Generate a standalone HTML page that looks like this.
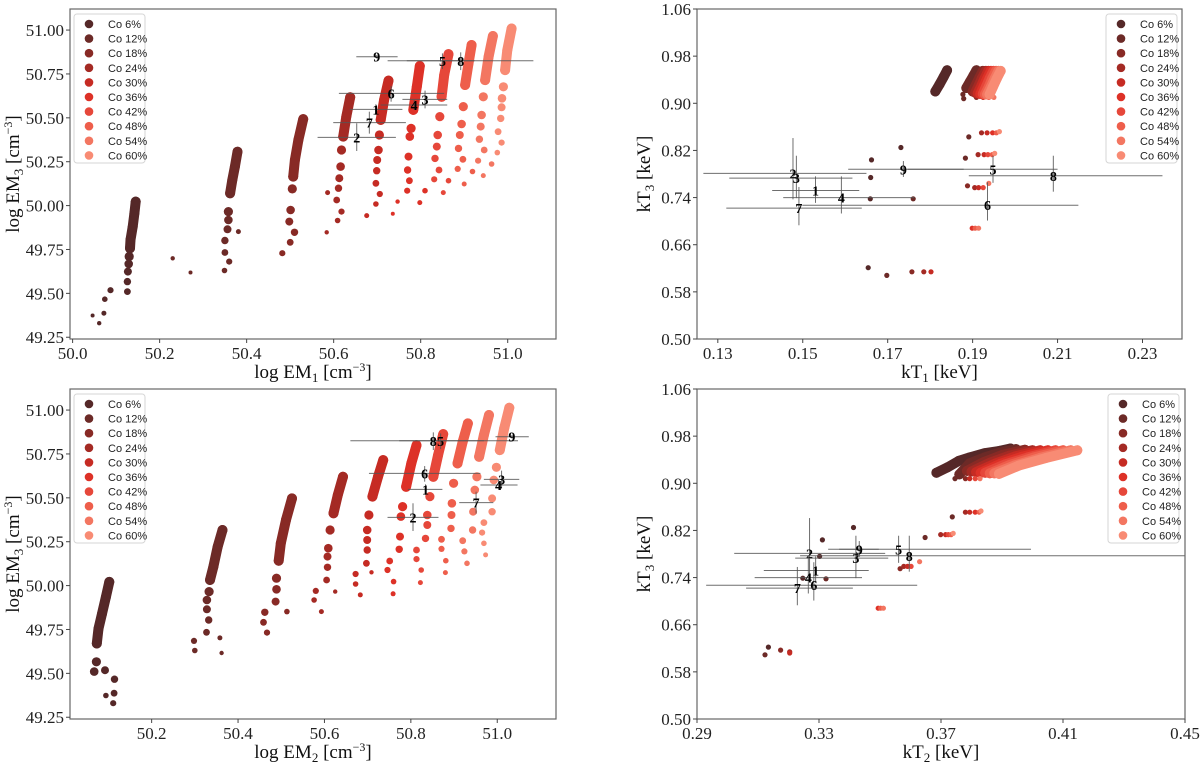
<!DOCTYPE html>
<html><head><meta charset="utf-8"><style>
html,body{margin:0;padding:0;background:#fff;}
svg{display:block;}
text{font-family:"Liberation Serif",serif;}
</style></head><body>
<svg id="fig" width="1200" height="764" viewBox="0 0 1200 764" xmlns="http://www.w3.org/2000/svg"></svg>
<script>
const seriesNames = ["Co 6%","Co 12%","Co 18%","Co 24%","Co 30%","Co 36%","Co 42%","Co 48%","Co 54%","Co 60%"];
const seriesColors = ["#552828","#6c2a27","#882a25","#a42a24","#c62b23","#dd3127","#e6473a","#ee5e4b","#f37661","#f88b74"];

// Top-left: log EM1 vs log EM3
const tlX = [
 [50.145,50.142,50.138,50.133,50.132,50.130,50.129,50.127,50.126,50.126,50.087,50.074,50.072,50.061,50.046],
 [50.379,50.373,50.367,50.362,50.358,50.358,50.356,50.350,50.350,50.360,50.349,50.381,50.230,50.271],
 [50.530,50.519,50.511,50.507,50.505,50.501,50.498,50.510,50.500,50.482],
 [50.638,50.629,50.622,50.618,50.616,50.613,50.611,50.607,50.618,50.609,50.586,50.584],
 [50.726,50.716,50.708,50.705,50.703,50.700,50.699,50.697,50.706,50.697,50.676],
 [50.798,50.791,50.783,50.778,50.775,50.772,50.770,50.774,50.769,50.810,50.798,50.747,50.736],
 [50.864,50.854,50.848,50.844,50.839,50.837,50.833,50.842,50.831,50.864,50.852],
 [50.917,50.910,50.902,50.898,50.894,50.890,50.887,50.897,50.885,50.919,50.900],
 [50.966,50.956,50.948,50.944,50.940,50.938,50.935,50.946,50.932,50.963,50.944],
 [51.009,50.999,50.994,50.990,50.987,50.986,50.984,50.978,50.986,50.976]];
const tlY = [
 [50.023,49.956,49.880,49.805,49.757,49.710,49.668,49.624,49.567,49.510,49.518,49.467,49.387,49.330,49.374],
 [50.307,50.222,50.146,50.070,49.966,49.918,49.865,49.801,49.733,49.681,49.630,49.852,49.700,49.619],
 [50.493,50.374,50.260,50.165,50.095,49.975,49.909,49.848,49.791,49.729],
 [50.617,50.507,50.393,50.317,50.222,50.156,50.099,50.032,49.966,49.915,50.074,49.848],
 [50.712,50.602,50.488,50.402,50.317,50.260,50.199,50.127,50.066,50.009,49.943],
 [50.795,50.677,50.545,50.440,50.393,50.279,50.203,50.142,50.085,50.085,50.017,50.023,49.953],
 [50.863,50.744,50.620,50.507,50.402,50.336,50.269,50.203,50.150,50.142,50.074],
 [50.915,50.810,50.687,50.564,50.465,50.402,50.326,50.264,50.209,50.194,50.123],
 [50.966,50.848,50.715,50.620,50.516,50.450,50.378,50.317,50.256,50.237,50.171],
 [51.009,50.886,50.772,50.677,50.611,50.560,50.497,50.421,50.359,50.302]];

// Bottom-left: log EM2 vs log EM3
const blX = [
 [50.102,50.094,50.085,50.077,50.073,50.072,50.067,50.092,50.114,50.113,50.111,50.094],
 [50.364,50.353,50.343,50.335,50.333,50.328,50.328,50.332,50.327,50.298,50.300,50.358,50.362],
 [50.525,50.511,50.499,50.494,50.489,50.489,50.487,50.462,50.459,50.467,50.513],
 [50.643,50.631,50.621,50.613,50.609,50.607,50.607,50.605,50.580,50.576,50.593,50.625],
 [50.736,50.724,50.711,50.703,50.699,50.699,50.699,50.697,50.672,50.672,50.683,50.709],
 [50.813,50.801,50.789,50.781,50.777,50.775,50.773,50.751,50.746,50.760,50.759],
 [50.875,50.863,50.852,50.844,50.838,50.838,50.834,50.813,50.813,50.824,50.822],
 [50.932,50.920,50.908,50.899,50.895,50.894,50.893,50.871,50.871,50.881,50.880],
 [50.981,50.969,50.958,50.953,50.948,50.944,50.943,50.920,50.924,50.930],
 [51.028,51.016,51.006,50.998,50.992,50.988,50.988,50.969,50.965,50.969,50.973]];
const blY = [
 [50.021,49.935,49.840,49.755,49.670,49.566,49.510,49.518,49.467,49.387,49.330,49.374],
 [50.317,50.222,50.108,50.032,49.966,49.918,49.865,49.804,49.734,49.685,49.630,49.702,49.616],
 [50.497,50.374,50.241,50.142,50.042,49.979,49.909,49.848,49.791,49.732,49.852],
 [50.620,50.516,50.412,50.317,50.213,50.165,50.104,50.032,49.970,49.918,49.852,49.966],
 [50.715,50.620,50.507,50.402,50.317,50.260,50.203,50.127,50.066,50.009,49.947,50.076],
 [50.800,50.696,50.563,50.450,50.393,50.279,50.207,50.140,50.089,50.023,49.953],
 [50.863,50.744,50.620,50.507,50.402,50.345,50.269,50.203,50.151,50.089,50.017],
 [50.924,50.820,50.696,50.583,50.469,50.402,50.326,50.264,50.209,50.142,50.074],
 [50.972,50.858,50.734,50.620,50.545,50.421,50.317,50.256,50.195,50.127],
 [51.013,50.896,50.772,50.674,50.602,50.497,50.421,50.359,50.302,50.241,50.175]];

// Top-right: kT1 vs kT3
const trX = [
 [0.1812,0.1822,0.1832,0.1840,0.1731,0.1662,0.1660,0.1659,0.1654],
 [0.1885,0.1893,0.1901,0.1909,0.1877,0.1879,0.1891,0.1883,0.1760,0.1698],
 [0.1900,0.1908,0.1916,0.1924,0.1909,0.1888,0.1757],
 [0.1906,0.1914,0.1922,0.1931,0.1921,0.1913,0.1905,0.1785],
 [0.1912,0.1920,0.1928,0.1937,0.1925,0.1934,0.1927,0.1914,0.1802],
 [0.1918,0.1926,0.1934,0.1943,0.1947,0.1899],
 [0.1924,0.1932,0.1940,0.1949,0.1938,0.1936,0.1925],
 [0.1929,0.1938,0.1946,0.1955,0.1956,0.1946,0.1906],
 [0.1934,0.1943,0.1952,0.1961,0.1950,0.1938,0.1914],
 [0.1940,0.1948,0.1957,0.1966,0.1963,0.1952]];
const trY = [
 [0.920,0.932,0.945,0.956,0.825,0.804,0.774,0.738,0.621],
 [0.926,0.936,0.946,0.956,0.915,0.908,0.843,0.807,0.738,0.608],
 [0.920,0.932,0.944,0.955,0.910,0.760,0.614],
 [0.918,0.930,0.943,0.955,0.850,0.813,0.757,0.614],
 [0.917,0.929,0.942,0.955,0.910,0.850,0.813,0.757,0.614],
 [0.916,0.929,0.942,0.955,0.850,0.688],
 [0.916,0.929,0.942,0.955,0.910,0.813,0.757],
 [0.915,0.928,0.942,0.955,0.850,0.813,0.688],
 [0.915,0.928,0.942,0.955,0.910,0.764,0.688],
 [0.915,0.928,0.942,0.955,0.852,0.815]];

// Bottom-right: kT2 vs kT3
const brX = [
 [0.3685,0.3721,0.3758,0.3794,0.3843,0.3892,0.3928,0.3413,0.3311,0.3302,0.3247,0.3134],
 [0.3760,0.3794,0.3843,0.3892,0.3946,0.3746,0.3737,0.3648,0.3323,0.3123],
 [0.3785,0.3840,0.3900,0.3975,0.3780,0.3566,0.3174],
 [0.3800,0.3860,0.3925,0.4000,0.3780,0.3699,0.3578,0.3204],
 [0.3815,0.3880,0.3945,0.4025,0.3794,0.3794,0.3715,0.3590,0.3204],
 [0.3830,0.3895,0.3965,0.4050,0.3812,0.3494],
 [0.3845,0.3910,0.3985,0.4075,0.3812,0.3724,0.3602],
 [0.3860,0.3925,0.4005,0.4100,0.3825,0.3733,0.3502],
 [0.3875,0.3940,0.4025,0.4125,0.3828,0.3630,0.3511],
 [0.3890,0.3955,0.4045,0.4147,0.3831,0.3740]];
const brY = [
 [0.918,0.927,0.938,0.944,0.951,0.955,0.959,0.825,0.804,0.776,0.739,0.622],
 [0.915,0.934,0.944,0.952,0.958,0.908,0.843,0.808,0.738,0.609],
 [0.921,0.936,0.948,0.957,0.908,0.755,0.617],
 [0.920,0.935,0.947,0.956,0.851,0.813,0.759,0.614],
 [0.919,0.934,0.946,0.956,0.908,0.851,0.813,0.759,0.612],
 [0.918,0.933,0.945,0.956,0.851,0.688],
 [0.918,0.932,0.944,0.956,0.908,0.813,0.759],
 [0.917,0.931,0.944,0.956,0.851,0.813,0.688],
 [0.917,0.930,0.943,0.956,0.908,0.767,0.688],
 [0.916,0.930,0.943,0.956,0.853,0.815]];

// Observations (labels 1..9)
const obsLabels = ["1","2","3","4","5","6","7","8","9"];
const obsEM3 = [50.548,50.389,50.605,50.573,50.825,50.639,50.473,50.825,50.848];
const obsEM3lo = [50.516,50.311,50.554,50.545,50.778,50.592,50.410,50.772,50.838];
const obsEM3hi = [50.577,50.469,50.655,50.602,50.867,50.681,50.535,50.873,50.858];
const obsEM1 = [50.697,50.653,50.810,50.785,50.850,50.732,50.682,50.892,50.699];
const obsEM1lo = [50.637,50.563,50.758,50.708,50.768,50.612,50.599,50.724,50.652];
const obsEM1hi = [50.758,50.743,50.861,50.861,50.924,50.854,50.766,51.059,50.747];
const obsEM2 = [50.834,50.805,51.010,51.003,50.869,50.832,50.951,50.852,51.034];
const obsEM2lo = [50.793,50.746,50.969,50.961,50.773,50.703,50.912,50.660,50.996];
const obsEM2hi = [50.873,50.864,51.051,51.047,51.048,50.961,50.991,50.969,51.073];
const obsKT3 = [0.752,0.781,0.773,0.740,0.788,0.727,0.722,0.777,0.788];
const obsKT3lo = [0.731,0.737,0.739,0.713,0.765,0.701,0.693,0.750,0.775];
const obsKT3hi = [0.776,0.841,0.811,0.776,0.811,0.766,0.758,0.811,0.802];
const obsKT1 = [0.1530,0.1477,0.1485,0.1591,0.1948,0.1935,0.1491,0.2090,0.1737];
const obsKT1lo = [0.1428,0.1266,0.1327,0.1454,0.1747,0.1499,0.1320,0.1891,0.1607];
const obsKT1hi = [0.1633,0.1650,0.1617,0.1763,0.2100,0.2149,0.1639,0.2347,0.1879];
const obsKT2 = [0.3289,0.3269,0.3421,0.3265,0.3561,0.3283,0.3229,0.3596,0.3432];
const obsKT2lo = [0.3119,0.3022,0.3222,0.3089,0.3330,0.2930,0.3061,0.3238,0.3366];
const obsKT2hi = [0.3463,0.3517,0.3527,0.3441,0.3995,0.3622,0.3411,0.4600,0.3496];

// ticks
const tlXTicks = [50.0,50.2,50.4,50.6,50.8,51.0];
const blXTicks = [50.2,50.4,50.6,50.8,51.0];
const emYTicks = [49.25,49.50,49.75,50.00,50.25,50.50,50.75,51.00];
const trXTicks = [0.13,0.15,0.17,0.19,0.21,0.23];
const brXTicks = [0.29,0.33,0.37,0.41,0.45];
const kYTicks = [0.50,0.58,0.66,0.74,0.82,0.90,0.98,1.06];

const NS = "http://www.w3.org/2000/svg";
const svg = document.getElementById('fig');
function mk(tag, attrs, parent){
  const e = document.createElementNS(NS, tag);
  for (const k in attrs) e.setAttribute(k, attrs[k]);
  (parent||svg).appendChild(e);
  return e;
}

const panels = [
 {id:'top-left', L:70, R:556, T:9, B:339, x0:49.994, x1:51.111, y0:49.240, y1:51.120, xs:tlX, ys:tlY, dense:[5,4,4,3,3,3,3,3,3,3], xt:tlXTicks, xd:1, yt:emYTicks, yd:2, leg:{x:74,y:14},
  ox:obsEM1, oxl:obsEM1lo, oxh:obsEM1hi, oy:obsEM3, oyl:obsEM3lo, oyh:obsEM3hi, xlab:['log  EM','1',' [cm','−3',']'], ylab:['log  EM','3',' [cm','−3',']']},
 {id:'top-right', L:697, R:1182, T:9, B:339, x0:0.1251, x1:0.2393, y0:0.50, y1:1.06, xs:trX, ys:trY, dense:[4,4,4,4,4,4,4,4,4,4], xt:trXTicks, xd:2, yt:kYTicks, yd:2, leg:{x:1106,y:14},
  ox:obsKT1, oxl:obsKT1lo, oxh:obsKT1hi, oy:obsKT3, oyl:obsKT3lo, oyh:obsKT3hi, xlab:['kT','1',' [keV]','',''], ylab:['kT','3',' [keV]','','']},
 {id:'bottom-left', L:70, R:556, T:389, B:719, x0:50.011, x1:51.136, y0:49.240, y1:51.120, xs:blX, ys:blY, dense:[5,4,4,3,3,3,3,3,3,3], xt:blXTicks, xd:1, yt:emYTicks, yd:2, leg:{x:74,y:394},
  ox:obsEM2, oxl:obsEM2lo, oxh:obsEM2hi, oy:obsEM3, oyl:obsEM3lo, oyh:obsEM3hi, xlab:['log  EM','2',' [cm','−3',']'], ylab:['log  EM','3',' [cm','−3',']']},
 {id:'bottom-right', L:697, R:1185, T:389, B:719, x0:0.29, x1:0.45, y0:0.50, y1:1.06, xs:brX, ys:brY, dense:[7,5,4,4,4,4,4,4,4,4], xt:brXTicks, xd:2, yt:kYTicks, yd:2, leg:{x:1108,y:394},
  ox:obsKT2, oxl:obsKT2lo, oxh:obsKT2hi, oy:obsKT3, oyl:obsKT3lo, oyh:obsKT3hi, xlab:['kT','2',' [keV]','',''], ylab:['kT','3',' [keV]','','']}
];

function label(g, parts, x, y, rot){
  const t = mk('text', {x:x, y:y, 'font-size':19, 'text-anchor':'middle', fill:'#111'}, g);
  if (rot) t.setAttribute('transform', 'rotate(-90 '+x+' '+y+')');
  const a = t.appendChild(document.createElementNS(NS,'tspan')); a.textContent = parts[0];
  const b = mk('tspan', {'font-size':13, dy:4}, t); b.textContent = parts[1];
  const c = mk('tspan', {dy:-4}, t); c.textContent = parts[2];
  if (parts[3]) { const d = mk('tspan', {'font-size':12, dy:-7}, t); d.textContent = parts[3];
    const e = mk('tspan', {dy:7}, t); e.textContent = parts[4]; }
  return t;
}

panels.forEach(p => {
  const g = mk('g', {});
  
  
  const X = v => p.L + (v - p.x0) / (p.x1 - p.x0) * (p.R - p.L);
  const Y = v => p.B - (v - p.y0) / (p.y1 - p.y0) * (p.B - p.T);
  const clipId = 'clip-' + p.id;
  const cp = mk('clipPath', {id:clipId}, g);
  mk('rect', {x:p.L, y:p.T, width:p.R-p.L, height:p.B-p.T}, cp);
  const plot = mk('g', {'clip-path':'url(#'+clipId+')'}, g);
  
  

  // series
  p.xs.forEach((xarr, s) => {
    const sg = mk('g', {fill:seriesColors[s]}, plot);
    
    
    const dn = p.dense[s];
    const yarr = p.ys[s];
    let d = '';
    for (let i = 0; i < dn && i < xarr.length; i++) d += (i ? 'L' : 'M') + X(xarr[i]).toFixed(1) + ' ' + Y(yarr[i]).toFixed(1);
    const ln = mk('path', {d:d, stroke:seriesColors[s], 'stroke-width':10, 'stroke-linecap':'round', 'stroke-linejoin':'round', fill:'none'}, sg);
    
    
    const n = xarr.length;
    for (let i = 0; i < n; i++) {
      let r;
      if (i < dn) r = 5;
      else r = Math.max(2, 4.6 - (i - dn) * 0.3);
      if (p.id.indexOf('right') >= 0 && i >= dn) r = 2.6;
      const c = mk('circle', {cx:X(xarr[i]).toFixed(1), cy:Y(yarr[i]).toFixed(1), r:r}, sg);
      
      
    }
  });

  // observations with error bars
  const og = mk('g', {}, plot);
  
  
  obsLabels.forEach((lb, k) => {
    const cx = X(p.ox[k]), cy = Y(p.oy[k]);
    const h = mk('line', {x1:X(p.oxl[k]), x2:X(p.oxh[k]), y1:cy, y2:cy, stroke:'#555', 'stroke-opacity':0.85, 'stroke-width':1}, og);
    
    
    const v = mk('line', {x1:cx, x2:cx, y1:Y(p.oyl[k]), y2:Y(p.oyh[k]), stroke:'#555', 'stroke-opacity':0.85, 'stroke-width':1}, og);
    
    
    const t = mk('text', {x:cx, y:cy+5, 'text-anchor':'middle', 'font-size':14, 'font-weight':'bold', fill:'#000'}, og);
    t.textContent = lb;
    
    
  });

  // frame
  const fr = mk('rect', {x:p.L, y:p.T, width:p.R-p.L, height:p.B-p.T, fill:'none', stroke:'#666', 'stroke-width':1.2}, g);
  
  

  // ticks
  const xa = mk('g', {}, g);
  
  
  p.xt.forEach(v => {
    const x = X(v);
    mk('line', {x1:x, x2:x, y1:p.B, y2:p.B+4, stroke:'#444'}, xa);
    const t = mk('text', {x:x, y:p.B+20, 'text-anchor':'middle', 'font-size':17, fill:'#222'}, xa);
    t.textContent = v.toFixed(p.xd);
    
    
  });
  const ya = mk('g', {}, g);
  
  
  p.yt.forEach(v => {
    const y = Y(v);
    mk('line', {x1:p.L-4, x2:p.L, y1:y, y2:y, stroke:'#444'}, ya);
    const t = mk('text', {x:p.L-6, y:y+6, 'text-anchor':'end', 'font-size':17, fill:'#222'}, ya);
    t.textContent = v.toFixed(p.yd);
    
    
  });
  const xl = label(g, p.xlab, (p.L+p.R)/2, p.B+39, false);
  
  
  const ylx = p.L - (p.id.indexOf('left') >= 0 && p.id.indexOf('right') < 0 ? 51 : 47);
  const yl = label(g, p.ylab, ylx, (p.T+p.B)/2, true);
  
  

  // legend
  const lg = mk('g', {}, g);
  
  
  mk('rect', {x:p.leg.x, y:p.leg.y, width:71, height:149, rx:3, fill:'#fff', 'fill-opacity':0.85, stroke:'#d6d6d6'}, lg);
  seriesNames.forEach((nm, s) => {
    const e = mk('g', {}, lg);
    
    
    const yy = p.leg.y + 10 + s*14.6;
    mk('circle', {cx:p.leg.x+15, cy:yy, r:4.3, fill:seriesColors[s]}, e);
    const t = mk('text', {x:p.leg.x+34, y:yy+4, 'font-size':11, fill:'#222', style:'font-family:"Liberation Sans",sans-serif'}, e);
    t.textContent = nm;
  });
});
</script>
</body></html>
